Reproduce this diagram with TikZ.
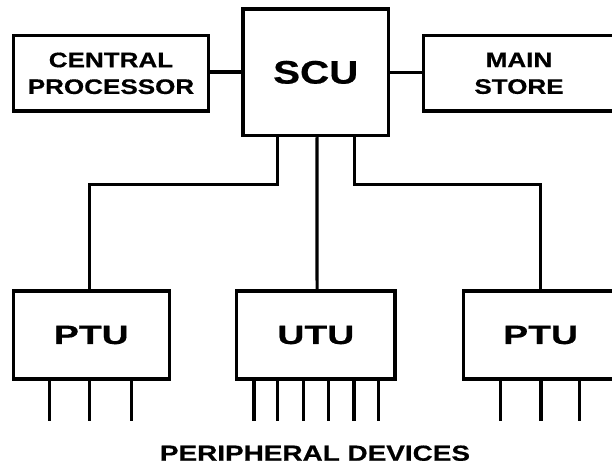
\documentclass[tikz,border=0pt]{standalone}
\usepackage{fontspec}
\newfontfamily\fa[FakeStretch=1.24,FakeBold=0.6]{Liberation Sans}
\newfontfamily\fb[FakeStretch=1.41,FakeBold=0.6]{Liberation Sans}
\newfontfamily\fc[FakeStretch=1.28,FakeBold=0.6]{Liberation Sans}
\begin{document}
\begin{tikzpicture}[x=1pt,y=1pt,
  box/.style={draw, line width=3.1pt, inner sep=0pt, align=center},
  wire/.style={line width=3.1pt},
  lead/.style={line width=3.1pt}]
\useasboundingbox (0,0) rectangle (612,-465);
\node[box, minimum width=195pt, minimum height=75.3pt, font=\fa\bfseries\fontsize{21}{26.7}\selectfont] (cp) at (111,-73.35) {CENTRAL\\PROCESSOR};
\node[box, minimum width=145.5pt, minimum height=126.7pt, font=\fa\bfseries\fontsize{32.5}{36}\selectfont] (scu) at (315.75,-72.35) {SCU};
\node[box, minimum width=191pt, minimum height=75.3pt, font=\fa\bfseries\fontsize{21}{26.7}\selectfont] (ms) at (519,-73.35) {MAIN\\STORE};
\node[box, minimum width=156pt, minimum height=88pt, font=\fb\bfseries\fontsize{26.5}{30}\selectfont] (ptua) at (91.3,-335) {PTU};
\node[box, minimum width=158.3pt, minimum height=88pt, font=\fb\bfseries\fontsize{26.5}{30}\selectfont] (utu) at (315.85,-335) {UTU};
\node[box, minimum width=153.8pt, minimum height=88pt, font=\fb\bfseries\fontsize{26.5}{30}\selectfont] (ptub) at (540.6,-335) {PTU};
\node[anchor=base, inner sep=0pt, font=\fc\bfseries\fontsize{21.8}{26}\selectfont] (pd) at (315,-460.7) {PERIPHERAL DEVICES};
% horizontal links
\draw[wire] (cp.east |- 0,-72) -- (scu.west |- 0,-72);
\draw[wire] (scu.east |- 0,-72.3) -- (ms.west |- 0,-72.3);
% links to transfer units
\draw[wire] ([xshift=-38pt]scu.south) -- ++(0,-47) -| ([xshift=-1.8pt]ptua.north);
\draw[wire] ([xshift=1.2pt]scu.south) -- ([xshift=1.2pt]utu.north);
\draw[wire] ([xshift=38.5pt]scu.south) -- ++(0,-47) -| (ptub.north);
% device leads
\foreach \d in {-41.8,-2,40.4} \draw[lead] ([xshift=\d pt]ptua.south) -- ++(0,-40.5);
\foreach \d in {-61.85,-38.15,-12.55,12.85,38.15,62.45} \draw[lead] ([xshift=\d pt]utu.south) -- ++(0,-40.5);
\foreach \d in {-40.2,0.4,39} \draw[lead] ([xshift=\d pt]ptub.south) -- ++(0,-40.5);
\end{tikzpicture}
\end{document}
